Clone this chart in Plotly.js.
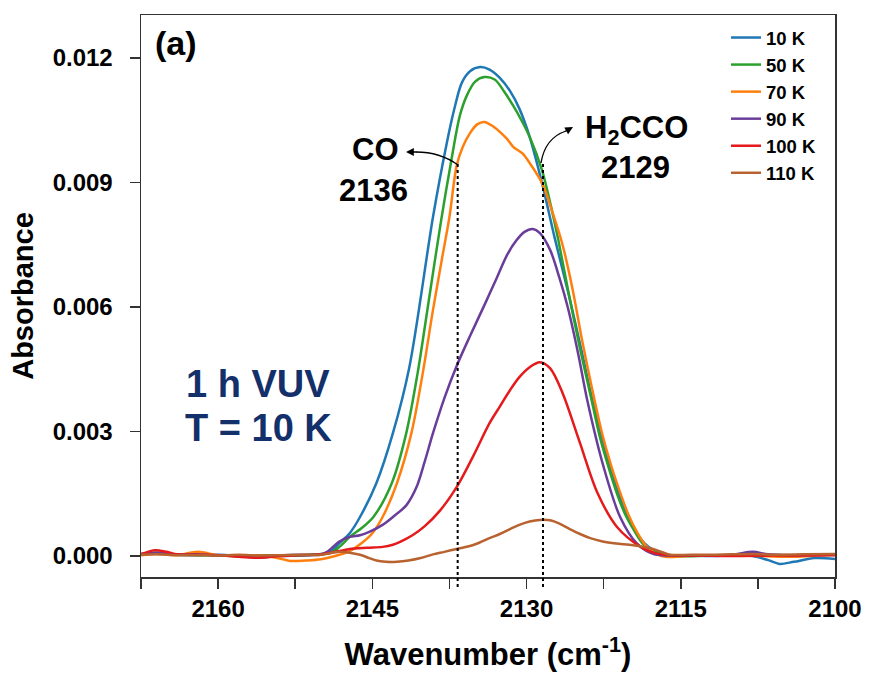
<!DOCTYPE html>
<html>
<head>
<meta charset="utf-8">
<script src="https://cdn.plot.ly/plotly-3.0.1.min.js"></script>
<style>html,body{margin:0;padding:0;background:#fff;}#chart{width:871px;height:673px;}</style>
</head>
<body>
<div id="chart"></div>
<script>
// Series names and colours
const seriesNames = ["10 K", "50 K", "70 K", "90 K", "100 K", "110 K"];
const seriesColors = ["#1f77b4", "#2ca02c", "#ff7f0e", "#6a3d9a", "#e41a1c", "#b8622f"];

// 10 K
const wn10 = [2167.5, 2166, 2164, 2162, 2160, 2158, 2156, 2154, 2152, 2150, 2149, 2148.2, 2147.2, 2146.2, 2144.6, 2143.0, 2141.4, 2139.1, 2137.8, 2137.0, 2136.3, 2135.5, 2134.5, 2133.6, 2132.6, 2131.6, 2130.7, 2129.7, 2128.5, 2127.2, 2125.8, 2124.7, 2123.6, 2122.7, 2121.9, 2121.0, 2120.2, 2119.3, 2118.5, 2117.7, 2117.0, 2116.0, 2114, 2112, 2110, 2108, 2106.5, 2105.4, 2104, 2102, 2100];
const abs10 = [0.00005, 0.00008, 0.00003, 0.00002, 0.00003, 0.00001, 0.00002, 0.0, 0.00001, 0.00005, 0.00012, 0.00031, 0.00055, 0.00094, 0.00176, 0.00296, 0.00455, 0.00817, 0.0099, 0.0108, 0.0114, 0.01168, 0.01178, 0.01172, 0.01152, 0.0112, 0.01078, 0.0101, 0.00899, 0.0076, 0.0062, 0.0050, 0.00376, 0.0029, 0.00214, 0.0015, 0.00094, 0.00055, 0.0003, 0.00015, 0.00007, 0.00002, 0.00001, 0.0, 0.00001, 0.0, -0.0001, -0.00019, -0.00014, -0.00005, -0.00007];

// 50 K
const wn50 = [2167.5, 2166, 2164, 2162, 2160, 2158, 2156, 2154, 2152, 2150, 2149, 2148.2, 2147.2, 2146.0, 2144.9, 2143.1, 2141.7, 2140.6, 2139.5, 2138.3, 2137.2, 2136.5, 2135.8, 2135.0, 2134.1, 2133.1, 2132.2, 2131.3, 2130.5, 2129.7, 2128.5, 2127.6, 2126.9, 2125.8, 2124.8, 2123.8, 2122.9, 2122.1, 2121.2, 2120.4, 2119.5, 2118.7, 2117.8, 2117.0, 2115.8, 2112, 2108, 2104, 2100];
const abs50 = [0.00003, 0.00006, 0.00004, 0.00002, 0.00002, 0.0, 0.00002, 0.00001, 0.00002, 0.00004, 0.00008, 0.00022, 0.00046, 0.00068, 0.00094, 0.00176, 0.00296, 0.0044, 0.00617, 0.0081, 0.0097, 0.0106, 0.0111, 0.01143, 0.01154, 0.01148, 0.0112, 0.01085, 0.0105, 0.0101, 0.0093, 0.0084, 0.0076, 0.0062, 0.0050, 0.0039, 0.0029, 0.0022, 0.0015, 0.001, 0.0006, 0.0003, 0.00013, 0.00005, 0.0, 0.00001, 0.00002, 0.00002, 0.00003];

// 70 K
const wn70 = [2167.5, 2166, 2164, 2162, 2160, 2158, 2156, 2154, 2153, 2151.5, 2150, 2148.2, 2147.2, 2146.0, 2145.0, 2144.0, 2142.6, 2141.2, 2140.1, 2139.1, 2138.2, 2137.5, 2136.8, 2136.2, 2135.5, 2134.8, 2134.1, 2133.3, 2132.6, 2131.9, 2131.3, 2130.4, 2129.7, 2128.5, 2127.5, 2126.5, 2125.5, 2124.6, 2123.6, 2122.7, 2121.8, 2121.0, 2120.1, 2119.2, 2118.4, 2117.5, 2116.5, 2113, 2110, 2107, 2104, 2100];
const abs70 = [0.00002, 0.00005, 0.00002, 0.0001, 0.00002, 0.0, 0.00001, -0.00006, -0.00012, -0.00011, -0.00008, 0.00003, 0.00012, 0.00032, 0.00055, 0.00094, 0.00176, 0.00296, 0.0044, 0.00593, 0.0072, 0.00817, 0.0094, 0.00986, 0.01019, 0.0104, 0.01046, 0.01036, 0.01022, 0.01005, 0.00986, 0.0097, 0.00947, 0.00899, 0.0083, 0.0075, 0.0064, 0.0052, 0.0040, 0.0030, 0.0022, 0.0016, 0.001, 0.00055, 0.00025, 0.00006, -0.00002, 0.00002, 0.00001, 0.0, -0.00002, 0.00004];

// 90 K
const wn90 = [2167.5, 2166, 2164, 2162, 2160, 2158, 2156, 2154, 2152, 2150, 2149.4, 2148.2, 2147.2, 2146.2, 2145.3, 2144.0, 2143.0, 2141.7, 2140.7, 2139.9, 2139.1, 2138.0, 2136.8, 2135.5, 2134.0, 2132.9, 2131.9, 2131.0, 2130.2, 2129.4, 2128.7, 2127.7, 2126.8, 2126.0, 2125.0, 2124.1, 2122.5, 2120.9, 2119.3, 2117.7, 2116, 2113, 2110, 2108, 2106.5, 2104, 2100];
const abs90 = [0.00005, 0.00008, 0.00003, 0.00004, 0.00001, 0.0, -0.00004, 0.00001, 0.00003, 0.00003, 0.0001, 0.00035, 0.00046, 0.0005, 0.00058, 0.00075, 0.00094, 0.00122, 0.00166, 0.00228, 0.00296, 0.0038, 0.00458, 0.0053, 0.0061, 0.0067, 0.00725, 0.0076, 0.00781, 0.00788, 0.00778, 0.00737, 0.0067, 0.006, 0.0049, 0.00376, 0.00214, 0.00094, 0.00031, 0.00005, 0.00001, 0.00002, 0.00003, 0.0001, 0.00004, 0.00002, 0.00003];

// 100 K
const wn100 = [2167.5, 2166.2, 2165, 2164, 2162, 2160, 2158, 2156, 2154, 2152, 2150, 2148.2, 2147.2, 2145.5, 2144.0, 2143.0, 2142.3, 2141.1, 2139.9, 2138.4, 2136.8, 2135.2, 2133.6, 2132.6, 2131.6, 2130.7, 2129.7, 2128.7, 2127.7, 2126.5, 2124.8, 2123.1, 2121.2, 2118.9, 2117.5, 2116, 2113, 2110, 2106, 2100];
const abs100 = [0.00004, 0.00014, 0.0001, 0.00004, 0.00003, 0.00002, -0.00002, -0.00004, 0.0, 0.00002, 0.00004, 0.00012, 0.00017, 0.0002, 0.00022, 0.00027, 0.00034, 0.0005, 0.00072, 0.0011, 0.00166, 0.0024, 0.0032, 0.0036, 0.004, 0.00431, 0.00455, 0.00467, 0.00452, 0.00393, 0.00272, 0.00152, 0.0007, 0.00022, 0.00007, 0.00002, 0.00001, 0.0, 0.00001, 0.00002];

// 110 K
const wn110 = [2167.5, 2166, 2164, 2162, 2160, 2158, 2156, 2154, 2152, 2150, 2148.2, 2147.2, 2146.2, 2145.3, 2144.6, 2143.7, 2142.6, 2141.5, 2140.3, 2139.1, 2138.0, 2136.8, 2135.5, 2134.6, 2133.6, 2132.6, 2131.6, 2130.7, 2129.7, 2128.7, 2127.7, 2126.8, 2125.8, 2124.8, 2123.8, 2122.6, 2121.3, 2120.0, 2118.8, 2117.7, 2116.8, 2116, 2114, 2112, 2110, 2108, 2106, 2103, 2100];
const abs110 = [0.00003, 0.00004, 0.00002, 0.00002, 0.00001, 0.00003, 0.00001, 0.00002, 0.00003, 0.00003, 0.0001, 0.00008, 0.00003, -0.00005, -0.00011, -0.00014, -0.00014, -0.00011, -0.00005, 0.00004, 0.0001, 0.00017, 0.00024, 0.00032, 0.00043, 0.00053, 0.00065, 0.00075, 0.00083, 0.00087, 0.00086, 0.00078, 0.00065, 0.00053, 0.00043, 0.00035, 0.0003, 0.00027, 0.00023, 0.00017, 0.00009, 0.00003, 0.00003, 0.00003, 0.00004, 0.00005, 0.00003, 0.00004, 0.00005];

// Marked band positions (cm-1)
const bandPositions = [2136.7, 2128.4];
const xTickStep = 15;
const yTickStep = 0.003;

const wnSets = [wn10, wn50, wn70, wn90, wn100, wn110];
const absSets = [abs10, abs50, abs70, abs90, abs100, abs110];

const FONT = "Liberation Sans, Arial, sans-serif";

const traces = seriesNames.map((name, i) => ({
  type: "scatter",
  mode: "lines",
  name: name,
  x: wnSets[i],
  y: absSets[i],
  line: {color: seriesColors[i], width: 2.5, shape: "spline", smoothing: 0.9},
  hoverinfo: "skip"
}));

// paper coordinate helpers for annotations (plot: left 141, top 15, w 694, h 562)
const L = 141, T = 15, W = 694, H = 562;
const px = v => (v - L) / W;
const py = v => (T + H - v) / H;

function label(xp, yp, text, size, color) {
  return {xref: "paper", yref: "paper", x: px(xp), y: py(yp), text: text, showarrow: false,
          xanchor: "center", yanchor: "middle",
          font: {family: FONT, size: size, weight: 700, color: color || "#000"}};
}

const layout = {
  width: 871,
  height: 673,
  margin: {l: L, r: 871 - L - W, t: T, b: 673 - T - H},
  paper_bgcolor: "#fff",
  plot_bgcolor: "#fff",
  font: {family: FONT, color: "#000", weight: 700},
  showlegend: true,
  legend: {
    x: px(726), y: py(19), xanchor: "left", yanchor: "top",
    bgcolor: "rgba(0,0,0,0)", borderwidth: 0,
    font: {family: FONT, size: 18.5, weight: 700, color: "#000"},
    tracegroupgap: 0
  },
  xaxis: {
    range: [2167.5, 2100],
    tick0: 2100, dtick: xTickStep,
    ticks: "outside", ticklen: 10, tickwidth: 1.5, tickcolor: "#333",
    minor: {dtick: xTickStep / 2, ticks: "outside", ticklen: 10, tickwidth: 1.5, tickcolor: "#333", showgrid: false},
    showline: true, linecolor: "#333", linewidth: 1.5, mirror: true,
    showgrid: false, zeroline: false,
    tickfont: {family: FONT, size: 24, weight: 700, color: "#000"},
    title: {text: "Wavenumber (cm<sup>-1</sup>)", font: {family: FONT, size: 31, weight: 700, color: "#000"}, standoff: 22}
  },
  yaxis: {
    range: [-0.000506, 0.013036],
    tick0: 0, dtick: yTickStep, tickformat: ".3f",
    ticks: "outside", ticklen: 10, tickwidth: 1.5, tickcolor: "#333",
    ticklabelstandoff: 12,
    showline: true, linecolor: "#333", linewidth: 1.5, mirror: true,
    showgrid: false, zeroline: false,
    tickfont: {family: FONT, size: 24, weight: 700, color: "#000"},
    title: {text: "Absorbance", font: {family: FONT, size: 29, weight: 700, color: "#000"}, standoff: 10}
  },
  shapes: [
    {type: "line", xref: "x", yref: "paper", x0: bandPositions[0], x1: bandPositions[0], y0: py(587), y1: py(164),
     line: {color: "#000", width: 2, dash: "dot"}},
    {type: "line", xref: "x", yref: "paper", x0: bandPositions[1], x1: bandPositions[1], y0: py(587), y1: py(162),
     line: {color: "#000", width: 2, dash: "dot"}},
    {type: "path", xref: "paper", yref: "paper",
     path: `M ${px(458)} ${py(165)} Q ${px(440)} ${py(152)} ${px(416)} ${py(152)}`,
     line: {color: "#000", width: 1.3}},
    {type: "path", xref: "paper", yref: "paper",
     path: `M ${px(541)} ${py(163)} Q ${px(545)} ${py(138)} ${px(566)} ${py(131)}`,
     line: {color: "#000", width: 1.3}}
  ],
  annotations: [
    label(176, 43, "(a)", 34),
    label(375, 149, "CO", 31),
    label(373, 190, "2136", 31),
    label(636, 130, "H<sub>2</sub>CCO", 31),
    label(635, 167, "2129", 31),
    label(258, 384, "1 h VUV", 38, "#14306b"),
    label(258, 428, "T = 10 K", 38, "#14306b"),
    // arrow heads
    {xref: "paper", yref: "paper", axref: "paper", ayref: "paper",
     x: px(406), y: py(152), ax: px(418), ay: py(152), text: "", showarrow: true,
     arrowhead: 2, arrowsize: 1.2, arrowwidth: 1.3, arrowcolor: "#000"},
    {xref: "paper", yref: "paper", axref: "paper", ayref: "paper",
     x: px(573), y: py(127), ax: px(564), ay: py(132), text: "", showarrow: true,
     arrowhead: 2, arrowsize: 1.2, arrowwidth: 1.3, arrowcolor: "#000"}
  ]
};

Plotly.newPlot("chart", traces, layout, {displayModeBar: false, staticPlot: true});
</script>
</body>
</html>
